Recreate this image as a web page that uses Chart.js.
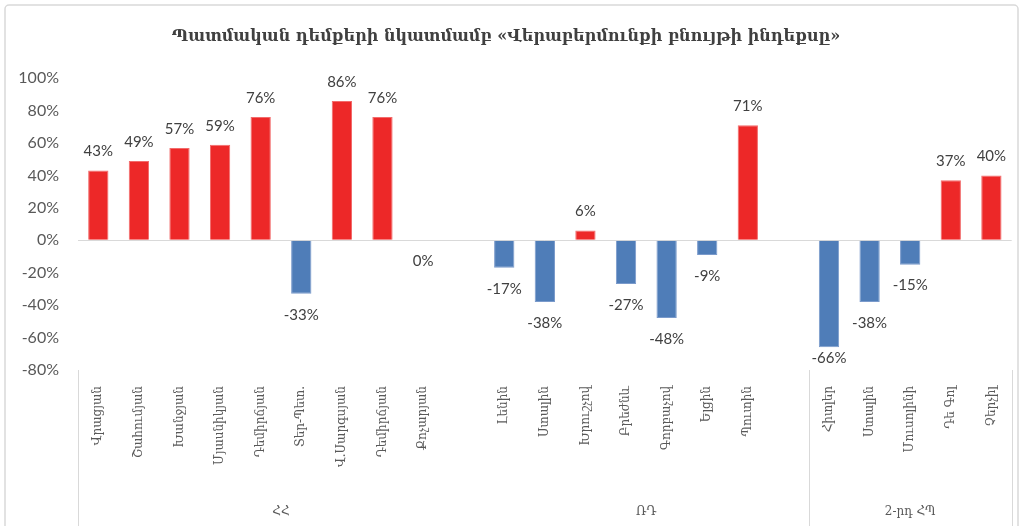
<!DOCTYPE html>
<html>
<head>
<meta charset="utf-8">
<script src="https://cdn.jsdelivr.net/npm/chart.js@4"></script>
<style>
  html, body { margin: 0; padding: 0; background: #fff; }
  #wrap { width: 1022px; height: 526px; }
</style>
</head>
<body>
<div id="wrap"><canvas id="chart" width="1022" height="526"></canvas></div>
<script>
// Data
const titleText = 'Պատմական դեմքերի նկատմամբ «Վերաբերմունքի բնույթի ինդեքսը»';
const figureNames = [
    'Վրացյան', 'Շահումյան', 'Խանջյան', 'Մյասնիկյան', 'Դեմիրճյան', 'Տեր-Պետ.', 'Վ.Սարգսյան', 'Դեմիրճյան', 'Քոչարյան', '',
    'Լենին', 'Ստալին', 'Խրուշչով', 'Բրեժնև', 'Գորբաչով', 'Ելցին', 'Պուտին', '',
    'Հիտլեր', 'Ստալին', 'Մուսոլինի', 'Դե Գոլ', 'Չերչիլ'
];
const indexValues = [
    43, 49, 57, 59, 76, -33, 86, 76, 0, null,
    -17, -38, 6, -27, -48, -9, 71, null,
    -66, -38, -15, 37, 40
];
const groupNames = ['ՀՀ', 'ՌԴ', '2-րդ ՀՊ'];
const groupSizes = [10, 8, 5];
const dividerIndexes = [0, 18, 23];   // category boundaries with a separator line
const yTicks = [-80, -60, -40, -20, 0, 20, 40, 60, 80, 100];

const RED = '#ED2828';
const BLUE = '#4F7DB8';
const TEXT = '#404040';
const serif = "'DejaVu Serif', 'DejaVu Sans', serif";
const sans = "Lato, 'Liberation Sans', sans-serif";

// chart border like the office frame
const framePlugin = {
    id: 'frame',
    beforeDraw(chart) {
        const ctx = chart.ctx;
        ctx.save();
        ctx.strokeStyle = '#D9D9D9';
        ctx.lineWidth = 1.5;
        ctx.beginPath();
        ctx.roundRect(5, 5, 1013, 540, 4);
        ctx.stroke();
        ctx.restore();
    }
};

// value labels above / below the bars (kept inside the plot area)
const valueLabels = {
    id: 'valueLabels',
    afterDatasetsDraw(chart) {
        const ctx = chart.ctx;
        const area = chart.chartArea;
        const meta = chart.getDatasetMeta(0);
        ctx.save();
        ctx.font = '15px ' + sans;
        ctx.fillStyle = TEXT;
        ctx.textAlign = 'center';
        ctx.textBaseline = 'middle';
        meta.data.forEach((bar, i) => {
            const v = indexValues[i];
            if (v === null) return;
            let y = v > 0 ? bar.y - 19 : bar.y + 21;
            y = Math.min(y, area.bottom - 12);
            ctx.fillText(v + '%', bar.x, y);
        });
        ctx.restore();
    }
};

// group labels and separators under the category labels
const groupAxis = {
    id: 'groupAxis',
    afterDraw(chart) {
        const ctx = chart.ctx;
        const x = chart.scales.x;
        const area = chart.chartArea;
        const half = (x.getPixelForValue(1) - x.getPixelForValue(0)) / 2;
        ctx.save();
        ctx.strokeStyle = '#D9D9D9';
        ctx.lineWidth = 1;
        dividerIndexes.forEach(idx => {
            const px = Math.round(x.getPixelForValue(idx) - half) + 0.5;
            ctx.beginPath();
            ctx.moveTo(px, area.bottom);
            ctx.lineTo(px, chart.height);
            ctx.stroke();
        });
        ctx.font = '12px ' + serif;
        ctx.fillStyle = '#595959';
        ctx.textAlign = 'center';
        ctx.textBaseline = 'middle';
        let start = 0;
        groupNames.forEach((name, g) => {
            let end = start + groupSizes[g] - 1;
            const cx = (x.getPixelForValue(start) + x.getPixelForValue(end)) / 2;
            ctx.fillText(name, cx, 512);
            start += groupSizes[g];
        });
        ctx.restore();
    }
};

const ctx = document.getElementById('chart').getContext('2d');
new Chart(ctx, {
    type: 'bar',
    data: {
        labels: figureNames,
        datasets: [{
            data: indexValues,
            backgroundColor: indexValues.map(v => v > 0 ? RED : BLUE),
            borderColor: indexValues.map(v => v > 0 ? '#F26B6B' : '#7A9ACB'),
            borderWidth: 1,
            categoryPercentage: 1,
            barPercentage: 0.5
        }]
    },
    options: {
        responsive: false,
        animation: false,
        layout: { padding: { left: 0, right: 10, top: 0, bottom: 0 } },
        plugins: {
            legend: { display: false },
            tooltip: { enabled: false },
            title: {
                display: true,
                text: titleText,
                color: TEXT,
                font: { family: serif, size: 16, weight: 'bold', lineHeight: 1.2 },
                padding: { top: 27, bottom: 32 }
            }
        },
        scales: {
            x: {
                grid: { display: false, drawTicks: false },
                border: { display: false },
                ticks: {
                    autoSkip: false,
                    maxRotation: 90,
                    minRotation: 90,
                    padding: 16,
                    color: '#595959',
                    font: { family: serif, size: 12 }
                },
                afterFit(scale) { scale.height = 156; }
            },
            y: {
                min: -80,
                max: 100,
                afterBuildTicks(scale) { scale.ticks = yTicks.map(v => ({ value: v })); },
                grid: {
                    drawTicks: false,
                    color: c => c.tick && c.tick.value === 0 ? '#D9D9D9' : 'rgba(0,0,0,0)'
                },
                border: { display: false },
                ticks: {
                    padding: 19,
                    color: '#595959',
                    font: { family: sans, size: 16 },
                    callback: v => v + '%'
                },
                afterFit(scale) { scale.width = 78; }
            }
        }
    },
    plugins: [framePlugin, valueLabels, groupAxis]
});
</script>
</body>
</html>
